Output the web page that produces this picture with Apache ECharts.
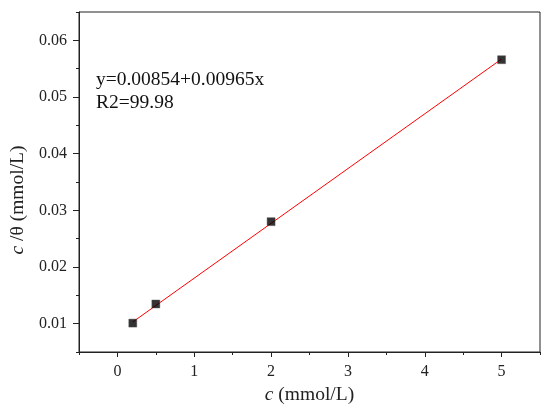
<!DOCTYPE html>
<html>
<head>
<meta charset="utf-8">
<script src="https://cdn.jsdelivr.net/npm/echarts@6/dist/echarts.min.js"></script>
<style>html,body{margin:0;padding:0;background:#fff}#c{width:550px;height:419px}</style>
</head>
<body>
<div id="c"></div>
<script>
// Data
const concX = [0.2, 0.5, 2, 5];
const ratioY = [0.0101, 0.01347, 0.0280, 0.05658];
const fitX = [0.2, 5];
const fitY = [0.0103, 0.0567];
const equationText = 'y=0.00854+0.00965x';
const r2Text = 'R2=99.98';

const FONT = '"Liberation Serif", "Times New Roman", serif';
const AX = '#222';
const NAME_SIZE = 19.5;

const chart = echarts.init(document.getElementById('c'), null, {renderer: 'canvas'});
function nameStyle(pad) {
  return {fontFamily: FONT, fontSize: NAME_SIZE, color: AX, padding: pad,
    rich: {i: {fontStyle: 'italic', fontFamily: FONT, fontSize: NAME_SIZE, color: AX},
           n: {fontFamily: FONT, fontSize: NAME_SIZE, color: AX}}};
}
const option = {
  animation: false,
  backgroundColor: '#fff',
  grid: {left: 78.5, right: 10, top: 12, bottom: 67, show: true, borderColor: AX, borderWidth: 1, backgroundColor: 'transparent'},
  xAxis: [{
    type: 'value', min: -0.5, max: 5.5, minInterval: 1, maxInterval: 1, position: 'bottom',
    axisLine: {show: true, onZero: false, lineStyle: {color: AX, width: 1}},
    axisTick: {show: true, length: 5, inside: false, lineStyle: {color: AX}},
    splitLine: {show: false},
    axisLabel: {show: true, showMinLabel: false, showMaxLabel: false, margin: 12, fontFamily: FONT, fontSize: 16, color: AX,
      formatter: v => (Math.abs(v - Math.round(v)) < 1e-9 ? String(Math.round(v)) : '')},
    name: '{i|c}{n| (mmol/L)}', nameLocation: 'middle', nameGap: 30,
    nameTextStyle: nameStyle(0)
  }, {
    type: 'value', min: -0.5, max: 5.5, interval: 0.5, position: 'bottom',
    axisLine: {show: false, onZero: false}, axisLabel: {show: false}, splitLine: {show: false},
    axisTick: {show: true, length: 3, lineStyle: {color: AX}}
  }],
  yAxis: [{
    type: 'value', min: 0.005, max: 0.065, minInterval: 0.01, maxInterval: 0.01, position: 'left',
    axisLine: {show: true, onZero: false, lineStyle: {color: AX, width: 1}},
    axisTick: {show: true, length: 6, lineStyle: {color: AX}},
    splitLine: {show: false},
    axisLabel: {show: true, showMinLabel: false, showMaxLabel: false, margin: 12, fontFamily: FONT, fontSize: 16, color: AX,
      formatter: v => { const k = Math.round(v * 100); return Math.abs(v * 100 - k) < 1e-6 ? (k / 100).toFixed(2) : ''; }},
    name: '{i|c}{n| /θ (mmol/L)}', nameLocation: 'middle', nameGap: 51,
    nameTextStyle: nameStyle([0, 36, 0, 0])
  }, {
    type: 'value', min: 0.005, max: 0.065, interval: 0.005, position: 'left',
    axisLine: {show: false, onZero: false}, axisLabel: {show: false}, splitLine: {show: false},
    axisTick: {show: true, length: 3, lineStyle: {color: AX}}
  }],
  series: [{
    type: 'line', xAxisIndex: 0, yAxisIndex: 0,
    data: fitX.map((x, i) => [x, fitY[i]]),
    showSymbol: false, symbol: 'none',
    lineStyle: {color: '#ff0000', width: 1}, z: 2
  }, {
    type: 'scatter', xAxisIndex: 0, yAxisIndex: 0,
    data: concX.map((x, i) => [x, ratioY[i]]),
    symbol: 'rect', symbolSize: 8,
    itemStyle: {color: '#000', borderColor: '#555', borderWidth: 0.5}, z: 3
  }],
  graphic: [{
    type: 'text', left: 96, top: 68,
    style: {text: equationText + '\n' + r2Text, font: '19.5px ' + FONT, fill: '#111', lineHeight: 23}
  }]
};
chart.setOption(option);
</script>
</body>
</html>
